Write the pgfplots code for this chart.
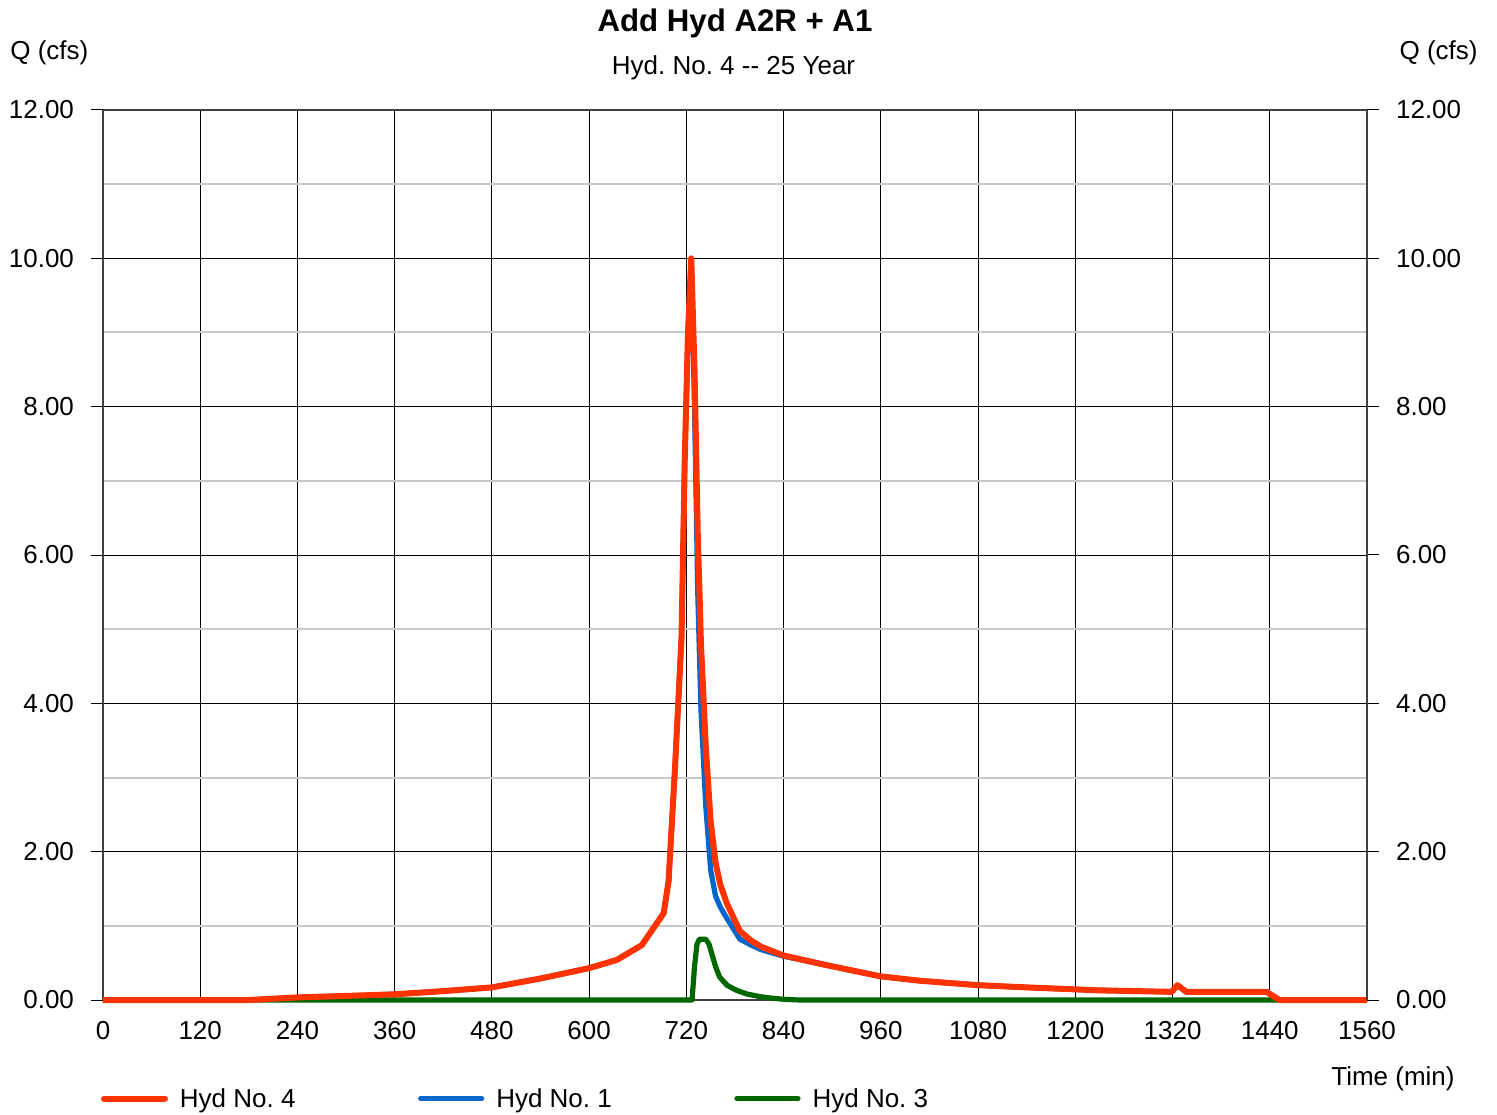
\documentclass[border=0pt]{standalone}
\usepackage{pgfplots}
\pgfplotsset{compat=1.18}
\usepackage{fontspec}
\setmainfont{Liberation Sans}
\definecolor{hydred}{RGB}{255,51,0}
\definecolor{hydblue}{RGB}{0,102,204}
\definecolor{hydgreen}{RGB}{0,102,0}
\definecolor{mgrid}{RGB}{200,200,200}

\begin{document}
\frenchspacing
\begin{tikzpicture}
\pgfplotsset{
  myaxis/.style={
    scale only axis, width=632pt, height=445pt,
    at={(0,0)}, anchor=origin,
    xmin=0, xmax=1560, ymin=0, ymax=12,
    font=\fontsize{13}{15}\selectfont,
    /pgf/number format/assume math mode=true,
    ytick={0,2,...,12},
    yticklabel style={/pgf/number format/fixed, /pgf/number format/fixed zerofill, /pgf/number format/precision=2},
    xticklabel style={/pgf/number format/1000 sep={}, yshift=-1pt},
    tick align=outside, major tick length=6pt, minor tick length=0pt,
    axis line style={black!75, line width=0.6pt},
  }
}
\begin{axis}[myaxis,
  axis y line*=left, axis x line*=box,
  xtick={0,120,...,1560},
  xtick style={draw=none},
  ytick style={black, line width=0.5pt},
  yticklabel style={xshift=-5pt},
  minor y tick num=1,
  grid=both,
  major grid style={black, line width=0.5pt},
  minor grid style={mgrid, line width=1pt},
  clip=false,
  reverse legend,
  legend columns=3,
  legend style={draw=none, fill=none, inner sep=0pt, outer sep=0pt,
    at={(axis description cs:-0.0016,-0.112)}, anchor=west,
    nodes={inner sep=0pt, anchor=base west, font=\fontsize{13}{15}\selectfont},
    /tikz/every odd column/.style={column sep=6pt},
    /tikz/every even column/.style={column sep=61.25pt}},
  legend image code/.code={%
    \path[draw=none] (0pt,4.5pt) -- (33pt,4.5pt);
    \draw[#1, line cap=round] (1.25pt,4.5pt) -- (31.75pt,4.5pt);},
]
% Hyd No. 3 (green)
\addplot[hydgreen, line width=2.6pt, line join=round] coordinates {
(0,0) (727,0) (730,0.45) (733,0.75) (736,0.82) (744,0.82) (748,0.75)
(752,0.6) (756,0.45) (761,0.31) (770,0.2) (782,0.13) (795,0.08)
(811,0.045) (825,0.025) (840,0.01) (860,0) (1444,0) (1560,0)
};
\addlegendentry{Hyd No. 3}
% Hyd No. 1 (blue)
\addplot[hydblue, line width=2.6pt, line join=round] coordinates {
(0,0) (180,0) (240,0.035) (300,0.055) (360,0.077) (420,0.12) (480,0.17)
(540,0.29) (600,0.43) (634,0.54) (665,0.74) (692,1.17) (698,1.6)
(706,3.14) (714,4.89) (718,7.3) (722,9.0) (726,10.0)
(730,8.0) (734,5.5) (738,3.9) (744,2.6) (750,1.75) (756,1.4) (762,1.25)
(770,1.1) (786,0.82) (800,0.74) (812,0.68) (840,0.59)
(893,0.47) (959,0.32) (1008,0.26) (1080,0.2) (1140,0.17) (1230,0.13)
(1319,0.11) (1326,0.2) (1337,0.11) (1436,0.11) (1452,0) (1560,0)
};
\addlegendentry{Hyd No. 1}
% Hyd No. 4 (red)
\addplot[hydred, line width=3pt, line join=round] coordinates {
(0,0) (180,0) (240,0.035) (300,0.055) (360,0.077) (420,0.12) (480,0.17)
(540,0.29) (600,0.43) (634,0.54) (665,0.74) (692,1.17) (698,1.6)
(706,3.14) (714,4.89) (718,7.3) (722,9.0) (726,10.0)
(730,8.5) (734,6.3) (738,4.8) (744,3.4) (750,2.4) (756,1.85) (762,1.55)
(770,1.3) (786,0.93) (800,0.8) (812,0.72) (840,0.6)
(893,0.47) (959,0.32) (1008,0.26) (1080,0.2) (1140,0.17) (1230,0.13)
(1319,0.11) (1326,0.2) (1337,0.11) (1436,0.11) (1452,0) (1560,0)
};
\addlegendentry{Hyd No. 4}
\end{axis}
\begin{axis}[myaxis,
  axis y line*=right, axis x line=none,
  ytick style={black, line width=0.5pt},
  yticklabel style={xshift=5pt},
]
\end{axis}
\node[font=\bfseries\fontsize{15.6}{18}\selectfont, inner sep=0pt] at (316pt,488.5pt) {Add Hyd A2R + A1};
\node[font=\fontsize{13}{15}\selectfont, inner sep=0pt, anchor=base] at (315.25pt,462.5pt) {Hyd. No. 4 {-}{-} 25 Year};
\node[font=\fontsize{13}{15}\selectfont, inner sep=0pt, anchor=base west] at (-46.5pt,470pt) {Q (cfs)};
\node[font=\fontsize{13}{15}\selectfont, inner sep=0pt, anchor=base east] at (687.5pt,470pt) {Q (cfs)};
\node[font=\fontsize{13}{15}\selectfont, inner sep=0pt, anchor=base east] at (676pt,-42.5pt) {Time (min)};
\pgfresetboundingbox
\path[use as bounding box] (-51.5pt,-57pt) rectangle (697pt,500pt);
\end{tikzpicture}
\end{document}
